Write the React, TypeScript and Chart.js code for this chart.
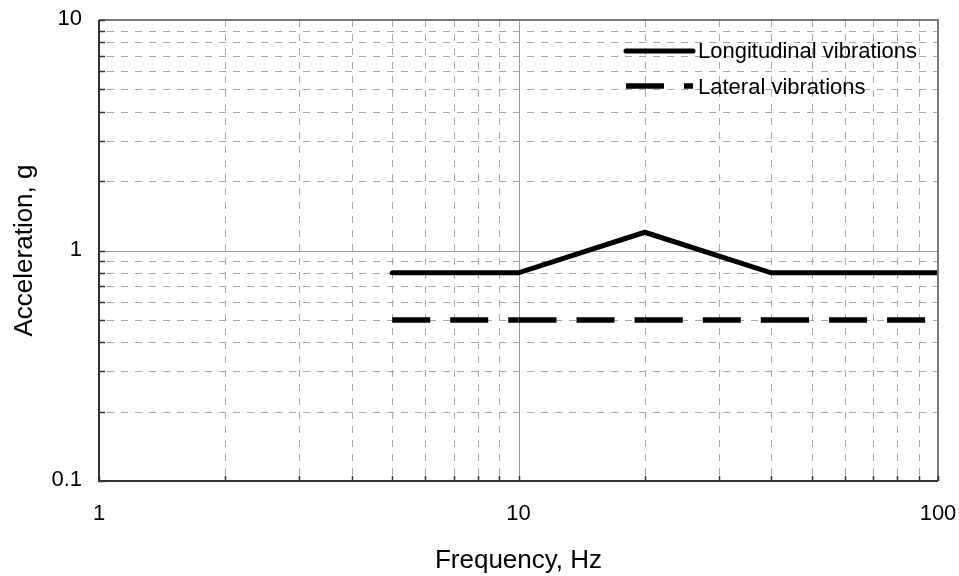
import { useEffect, useRef } from "react";
import { Chart, registerables } from "chart.js";

Chart.register(...registerables);

// Vibration test profile: acceleration vs. frequency
const FREQ_HZ = [5, 10, 20, 40, 100];
const LONGITUDINAL_G = [0.8, 0.8, 1.2, 0.8, 0.8];
const LATERAL_G = [0.5, 0.5, 0.5, 0.5, 0.5];
const SERIES_NAMES = ["Longitudinal vibrations", "Lateral vibrations"];

// Log-axis grid values and labels
const X_MAJOR = [1, 10, 100];
const X_LABELS = ["1", "10", "100"];
const X_MINOR = [2, 3, 4, 5, 6, 7, 8, 9, 20, 30, 40, 50, 60, 70, 80, 90];
const Y_MAJOR = [0.1, 1, 10];
const Y_LABELS = ["0.1", "1", "10"];
const Y_MINOR = [0.2, 0.3, 0.4, 0.5, 0.6, 0.7, 0.8, 0.9, 2, 3, 4, 5, 6, 7, 8, 9];

const X_TITLE = "Frequency, Hz";
const Y_TITLE = "Acceleration, g";

const FONT = '"Liberation Sans", Arial, sans-serif';
const LATERAL_DASH = [38, 20];

const framePlugin = {
  id: "frame",
  beforeDatasetsDraw(chart: any) {
    const { ctx, chartArea: a, scales } = chart;
    const x = scales.x;
    const y = scales.y;
    ctx.save();
    // minor grid: dashed
    ctx.lineWidth = 1;
    ctx.strokeStyle = "#a8a8a8";
    ctx.setLineDash([7, 7]);
    for (const v of X_MINOR) {
      const px = Math.round(x.getPixelForValue(v)) + 0.5;
      ctx.beginPath();
      ctx.moveTo(px, a.top);
      ctx.lineTo(px, a.bottom);
      ctx.stroke();
    }
    for (const v of Y_MINOR) {
      const py = Math.round(y.getPixelForValue(v)) + 0.5;
      ctx.beginPath();
      ctx.moveTo(a.left + 8, py);
      ctx.lineTo(a.right, py);
      ctx.stroke();
    }
    // major grid: solid
    ctx.setLineDash([]);
    ctx.strokeStyle = "#9a9a9a";
    for (const v of X_MAJOR) {
      const px = Math.round(x.getPixelForValue(v)) + 0.5;
      ctx.beginPath();
      ctx.moveTo(px, a.top);
      ctx.lineTo(px, a.bottom);
      ctx.stroke();
    }
    for (const v of Y_MAJOR) {
      const py = Math.round(y.getPixelForValue(v)) + 0.5;
      ctx.beginPath();
      ctx.moveTo(a.left, py);
      ctx.lineTo(a.right, py);
      ctx.stroke();
    }
    ctx.restore();
  },
  afterDatasetsDraw(chart: any) {
    const { ctx, chartArea: a, scales } = chart;
    const x = scales.x;
    const y = scales.y;
    ctx.save();
    // top and right frame
    ctx.lineWidth = 2;
    ctx.strokeStyle = "#7a7a7a";
    ctx.beginPath();
    ctx.moveTo(a.left, a.top);
    ctx.lineTo(a.right, a.top);
    ctx.lineTo(a.right, a.bottom);
    ctx.stroke();
    // left and bottom axes
    ctx.strokeStyle = "#333333";
    ctx.beginPath();
    ctx.moveTo(a.left, a.top);
    ctx.lineTo(a.left, a.bottom);
    ctx.lineTo(a.right, a.bottom);
    ctx.stroke();
    // inward tick marks
    ctx.lineWidth = 1.5;
    for (const v of [...Y_MAJOR, ...Y_MINOR]) {
      const py = Math.round(y.getPixelForValue(v)) + 0.5;
      ctx.beginPath();
      ctx.moveTo(a.left, py);
      ctx.lineTo(a.left + 6, py);
      ctx.stroke();
    }
    for (const v of [...X_MAJOR, ...X_MINOR]) {
      const px = Math.round(x.getPixelForValue(v)) + 0.5;
      ctx.beginPath();
      ctx.moveTo(px, a.bottom);
      ctx.lineTo(px, a.bottom - 5);
      ctx.stroke();
    }
    ctx.restore();
  },
  afterDraw(chart: any) {
    const { ctx, chartArea: a, scales } = chart;
    const x = scales.x;
    const y = scales.y;
    ctx.save();
    ctx.fillStyle = "#000000";
    // tick labels
    ctx.font = `22px ${FONT}`;
    ctx.textAlign = "right";
    ctx.textBaseline = "middle";
    Y_MAJOR.forEach((v, i) => {
      ctx.fillText(Y_LABELS[i], a.left - 17, y.getPixelForValue(v) - 1);
    });
    ctx.textAlign = "center";
    X_MAJOR.forEach((v, i) => {
      ctx.fillText(X_LABELS[i], x.getPixelForValue(v), a.bottom + 33);
    });
    // axis titles
    ctx.font = `26px ${FONT}`;
    ctx.textBaseline = "alphabetic";
    ctx.fillText(X_TITLE, (a.left + a.right) / 2, 568);
    ctx.save();
    ctx.translate(32, (a.top + a.bottom) / 2);
    ctx.rotate(-Math.PI / 2);
    ctx.fillText(Y_TITLE, 0, 0);
    ctx.restore();
    // legend
    const lx0 = 626;
    const lx1 = 693;
    ctx.strokeStyle = "#000000";
    ctx.lineWidth = 5;
    ctx.lineCap = "round";
    ctx.beginPath();
    ctx.moveTo(lx0, 51);
    ctx.lineTo(lx1, 51);
    ctx.stroke();
    ctx.lineCap = "butt";
    ctx.lineWidth = 5.5;
    ctx.setLineDash(LATERAL_DASH);
    ctx.beginPath();
    ctx.moveTo(lx0, 86);
    ctx.lineTo(lx1, 86);
    ctx.stroke();
    ctx.setLineDash([]);
    ctx.font = `22px ${FONT}`;
    ctx.textAlign = "left";
    ctx.fillText(SERIES_NAMES[0], 698, 58);
    ctx.fillText(SERIES_NAMES[1], 698, 94);
    ctx.restore();
  },
};

export default function App() {
  const canvasRef = useRef<HTMLCanvasElement | null>(null);

  useEffect(() => {
    const canvas = canvasRef.current;
    if (!canvas) return;
    const chart = new Chart(canvas, {
      type: "line",
      data: {
        datasets: [
          {
            label: SERIES_NAMES[0],
            data: FREQ_HZ.map((f, i) => ({ x: f, y: LONGITUDINAL_G[i] })),
            borderColor: "#000000",
            borderWidth: 5,
            borderCapStyle: "round",
            pointRadius: 0,
            tension: 0,
          },
          {
            label: SERIES_NAMES[1],
            data: FREQ_HZ.map((f, i) => ({ x: f, y: LATERAL_G[i] })),
            borderColor: "#000000",
            borderWidth: 5.5,
            borderCapStyle: "butt",
            pointRadius: 0,
            tension: 0,
            // dash pattern restarts at every vertex
            segment: {
              borderDash: () => LATERAL_DASH,
              borderDashOffset: (c: any) => c.p0DataIndex * 0.001,
            },
          },
        ],
      },
      options: {
        responsive: false,
        animation: false,
        events: [],
        layout: { padding: { left: 0, top: 20, right: 21, bottom: 0 } },
        plugins: {
          legend: { display: false },
          tooltip: { enabled: false },
        },
        scales: {
          x: {
            type: "logarithmic",
            min: 1,
            max: 100,
            grid: { display: false },
            border: { display: false },
            ticks: { display: false },
            afterFit: (s: any) => {
              s.height = 95;
            },
          },
          y: {
            type: "logarithmic",
            min: 0.1,
            max: 10,
            grid: { display: false },
            border: { display: false },
            ticks: { display: false },
            afterFit: (s: any) => {
              s.width = 99;
            },
          },
        },
      },
      plugins: [framePlugin],
    } as any);
    return () => chart.destroy();
  }, []);

  return (
    <div style={{ position: "absolute", left: 0, top: 0, width: 959, height: 576, background: "#ffffff" }}>
      <canvas ref={canvasRef} width={959} height={576} />
    </div>
  );
}
